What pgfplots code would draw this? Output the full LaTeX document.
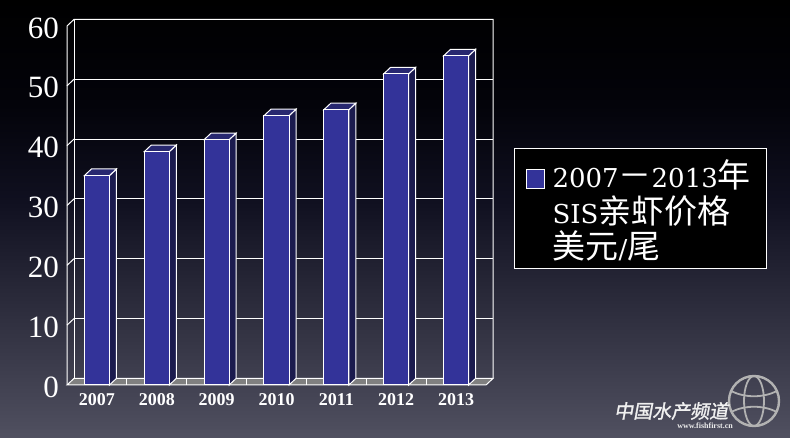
\documentclass[border=0pt]{standalone}
\usepackage{pgfplots}
\pgfplotsset{compat=1.18}
\usepackage{pgfplotstable}
\usepackage{fontspec}
\setmainfont{Liberation Serif}
\newfontfamily\cjk{Noto Sans CJK SC}
\newfontfamily\cjkwm{Noto Sans CJK SC}[FakeSlant=0.18,FakeBold=1.5]
\newfontfamily\lat{DejaVu Serif}
\definecolor{barfront}{RGB}{51,51,153}
\definecolor{barside}{RGB}{27,27,78}
\definecolor{bartop}{RGB}{40,40,112}
\definecolor{floorgray}{RGB}{128,128,128}
\definecolor{bg0}{RGB}{80,80,96}
\definecolor{bg1}{RGB}{56,56,72}
\definecolor{bg2}{RGB}{16,16,32}
\definecolor{bg3}{RGB}{3,3,10}
\pgfdeclareverticalshading{bgshade}{100bp}{color(0bp)=(bg0); color(25bp)=(bg0); color(35bp)=(bg1); color(52bp)=(bg2); color(63bp)=(bg3); color(75bp)=(black); color(100bp)=(black)}
\newcommand\lt[1]{{\lat\fontsize{26bp}{35.5bp}\selectfont #1}}
\newcommand\ck[1]{{\cjk\fontsize{33bp}{35.5bp}\selectfont #1}}
\pgfplotstableread{
x v
0 35
1 39
2 41
3 45
4 46
5 52
6 55
}\pricedata
\begin{document}
\begin{tikzpicture}
\shade[shading=bgshade] (0,0) rectangle (790bp,438bp);
\useasboundingbox (0,0) rectangle (790bp,438bp);
\begin{axis}[
  at={(67bp,53bp)}, anchor=south west,
  scale only axis, width=426bp, height=365.6bp,
  xmin=-0.5, xmax=6.617, ymin=0, ymax=61.1,
  clip=false,
  axis line style={draw=none}, tick style={draw=none},
  xtick={0,...,6}, xticklabels={2007,2008,2009,2010,2011,2012,2013},
  ytick={0,10,...,60},
  xticklabel style={font=\fontsize{18bp}{18bp}\selectfont\bfseries, text=white, inner sep=0pt, anchor=north, yshift=-8bp},
  yticklabel style={font=\fontsize{31bp}{31bp}\selectfont, text=white, inner sep=0pt, anchor=east, xshift=-8bp, yshift=-2bp},
  /pgf/number format/assume math mode=true,
  legend style={at={(axis description cs:1.0493,0.6482)}, anchor=north west, draw=white, line width=1bp, fill=black, text=white, inner xsep=11bp, inner ysep=0bp, nodes={inner sep=0pt}, cells={anchor=base west}, column sep=8bp, font=\fontsize{33bp}{35.5bp}\selectfont},
]
% floor
\addplot[fill=floorgray, draw=white, line width=1bp, mark=none, forget plot] coordinates {(-0.5,0) (6.5,0) (6.617,1.1) (-0.383,1.1)} -- cycle;
\addplot[white, line width=1bp, mark=none, forget plot] coordinates {(0.5,0) (0.5,1.1)};
\addplot[white, line width=1bp, mark=none, forget plot] coordinates {(1.5,0) (1.5,1.1)};
\addplot[white, line width=1bp, mark=none, forget plot] coordinates {(2.5,0) (2.5,1.1)};
\addplot[white, line width=1bp, mark=none, forget plot] coordinates {(3.5,0) (3.5,1.1)};
\addplot[white, line width=1bp, mark=none, forget plot] coordinates {(4.5,0) (4.5,1.1)};
\addplot[white, line width=1bp, mark=none, forget plot] coordinates {(5.5,0) (5.5,1.1)};
% walls
\addplot[white, line width=1bp, mark=none, forget plot] coordinates {(-0.5,0) (-0.5,60) (-0.383,61.1) (6.617,61.1) (6.617,1.1)};
\addplot[white, line width=1bp, mark=none, forget plot] coordinates {(-0.383,1.1) (-0.383,61.1)};
% gridlines
\addplot[white, line width=1bp, mark=none, forget plot] coordinates {(-0.383,11.1) (6.617,11.1)};
\addplot[white, line width=1bp, mark=none, forget plot] coordinates {(-0.383,21.1) (6.617,21.1)};
\addplot[white, line width=1bp, mark=none, forget plot] coordinates {(-0.383,31.1) (6.617,31.1)};
\addplot[white, line width=1bp, mark=none, forget plot] coordinates {(-0.383,41.1) (6.617,41.1)};
\addplot[white, line width=1bp, mark=none, forget plot] coordinates {(-0.383,51.1) (6.617,51.1)};
% left wall ticks
\addplot[white, line width=1bp, mark=none, forget plot] coordinates {(-0.5,10) (-0.383,11.1)};
\addplot[white, line width=1bp, mark=none, forget plot] coordinates {(-0.5,20) (-0.383,21.1)};
\addplot[white, line width=1bp, mark=none, forget plot] coordinates {(-0.5,30) (-0.383,31.1)};
\addplot[white, line width=1bp, mark=none, forget plot] coordinates {(-0.5,40) (-0.383,41.1)};
\addplot[white, line width=1bp, mark=none, forget plot] coordinates {(-0.5,50) (-0.383,51.1)};
% bar sides and tops
\pgfplotsforeachungrouped \i in {0,...,6}{
  \pgfplotstablegetelem{\i}{v}\of\pricedata
  \let\v\pgfplotsretval
  \pgfmathsetmacro\xa{\i+0.209}
  \pgfmathsetmacro\xb{\i+0.209+0.117}
  \pgfmathsetmacro\xc{\i-0.209}
  \pgfmathsetmacro\xd{\i-0.209+0.117}
  \pgfmathsetmacro\vt{\v+1.1}
  \edef\temp{%
    \noexpand\addplot[fill=barside, draw=white, line width=1bp, mark=none, forget plot] coordinates {(\xa,0) (\xb,1.1) (\xb,\vt) (\xa,\v)} -- cycle;
    \noexpand\addplot[fill=bartop, draw=white, line width=1bp, mark=none, forget plot] coordinates {(\xc,\v) (\xa,\v) (\xb,\vt) (\xd,\vt)} -- cycle;
  }\temp
}
% bar fronts
\addplot[ybar, bar width=0.418, bar shift=0pt, fill=barfront, draw=white, line width=1bp,
  legend image code/.code={\draw[fill=barfront,draw=white,line width=1bp] (0bp,78.5bp) rectangle (18bp,97.5bp);}]
  table[x=x, y=v] {\pricedata};
\addlegendentry{\raisebox{8bp}{\parbox[b]{203bp}{\rule{0pt}{39bp}\lt{2007}\ck{－}\lt{2013}\ck{年}\\\lt{SIS}\ck{亲虾价格}\\\ck{美元}\lt{/}\ck{尾}\rule[-8bp]{0pt}{8bp}}}}
\end{axis}
% watermark
\draw[gray!60, line width=2.4bp] (754bp,37bp) circle (25bp);
\draw[gray!60, line width=1.8bp] (754bp,37bp) ellipse (10bp and 25bp);
\draw[gray!60, line width=1.8bp] (731bp,47bp) .. controls (745bp,40bp) and (763bp,40bp) .. (777bp,47bp);
\draw[gray!60, line width=1.8bp] (731bp,26bp) .. controls (745bp,33bp) and (763bp,33bp) .. (777bp,26bp);
\node[anchor=west, inner sep=0pt, text=white!88!gray, font=\cjkwm\fontsize{19bp}{19bp}\selectfont] at (614bp,27bp) {中国水产频道};
\node[anchor=east, inner sep=0pt, text=white!85!gray, font=\bfseries\fontsize{8bp}{8bp}\selectfont] at (733bp,12bp) {www.fishfirst.cn};
\end{tikzpicture}
\end{document}
